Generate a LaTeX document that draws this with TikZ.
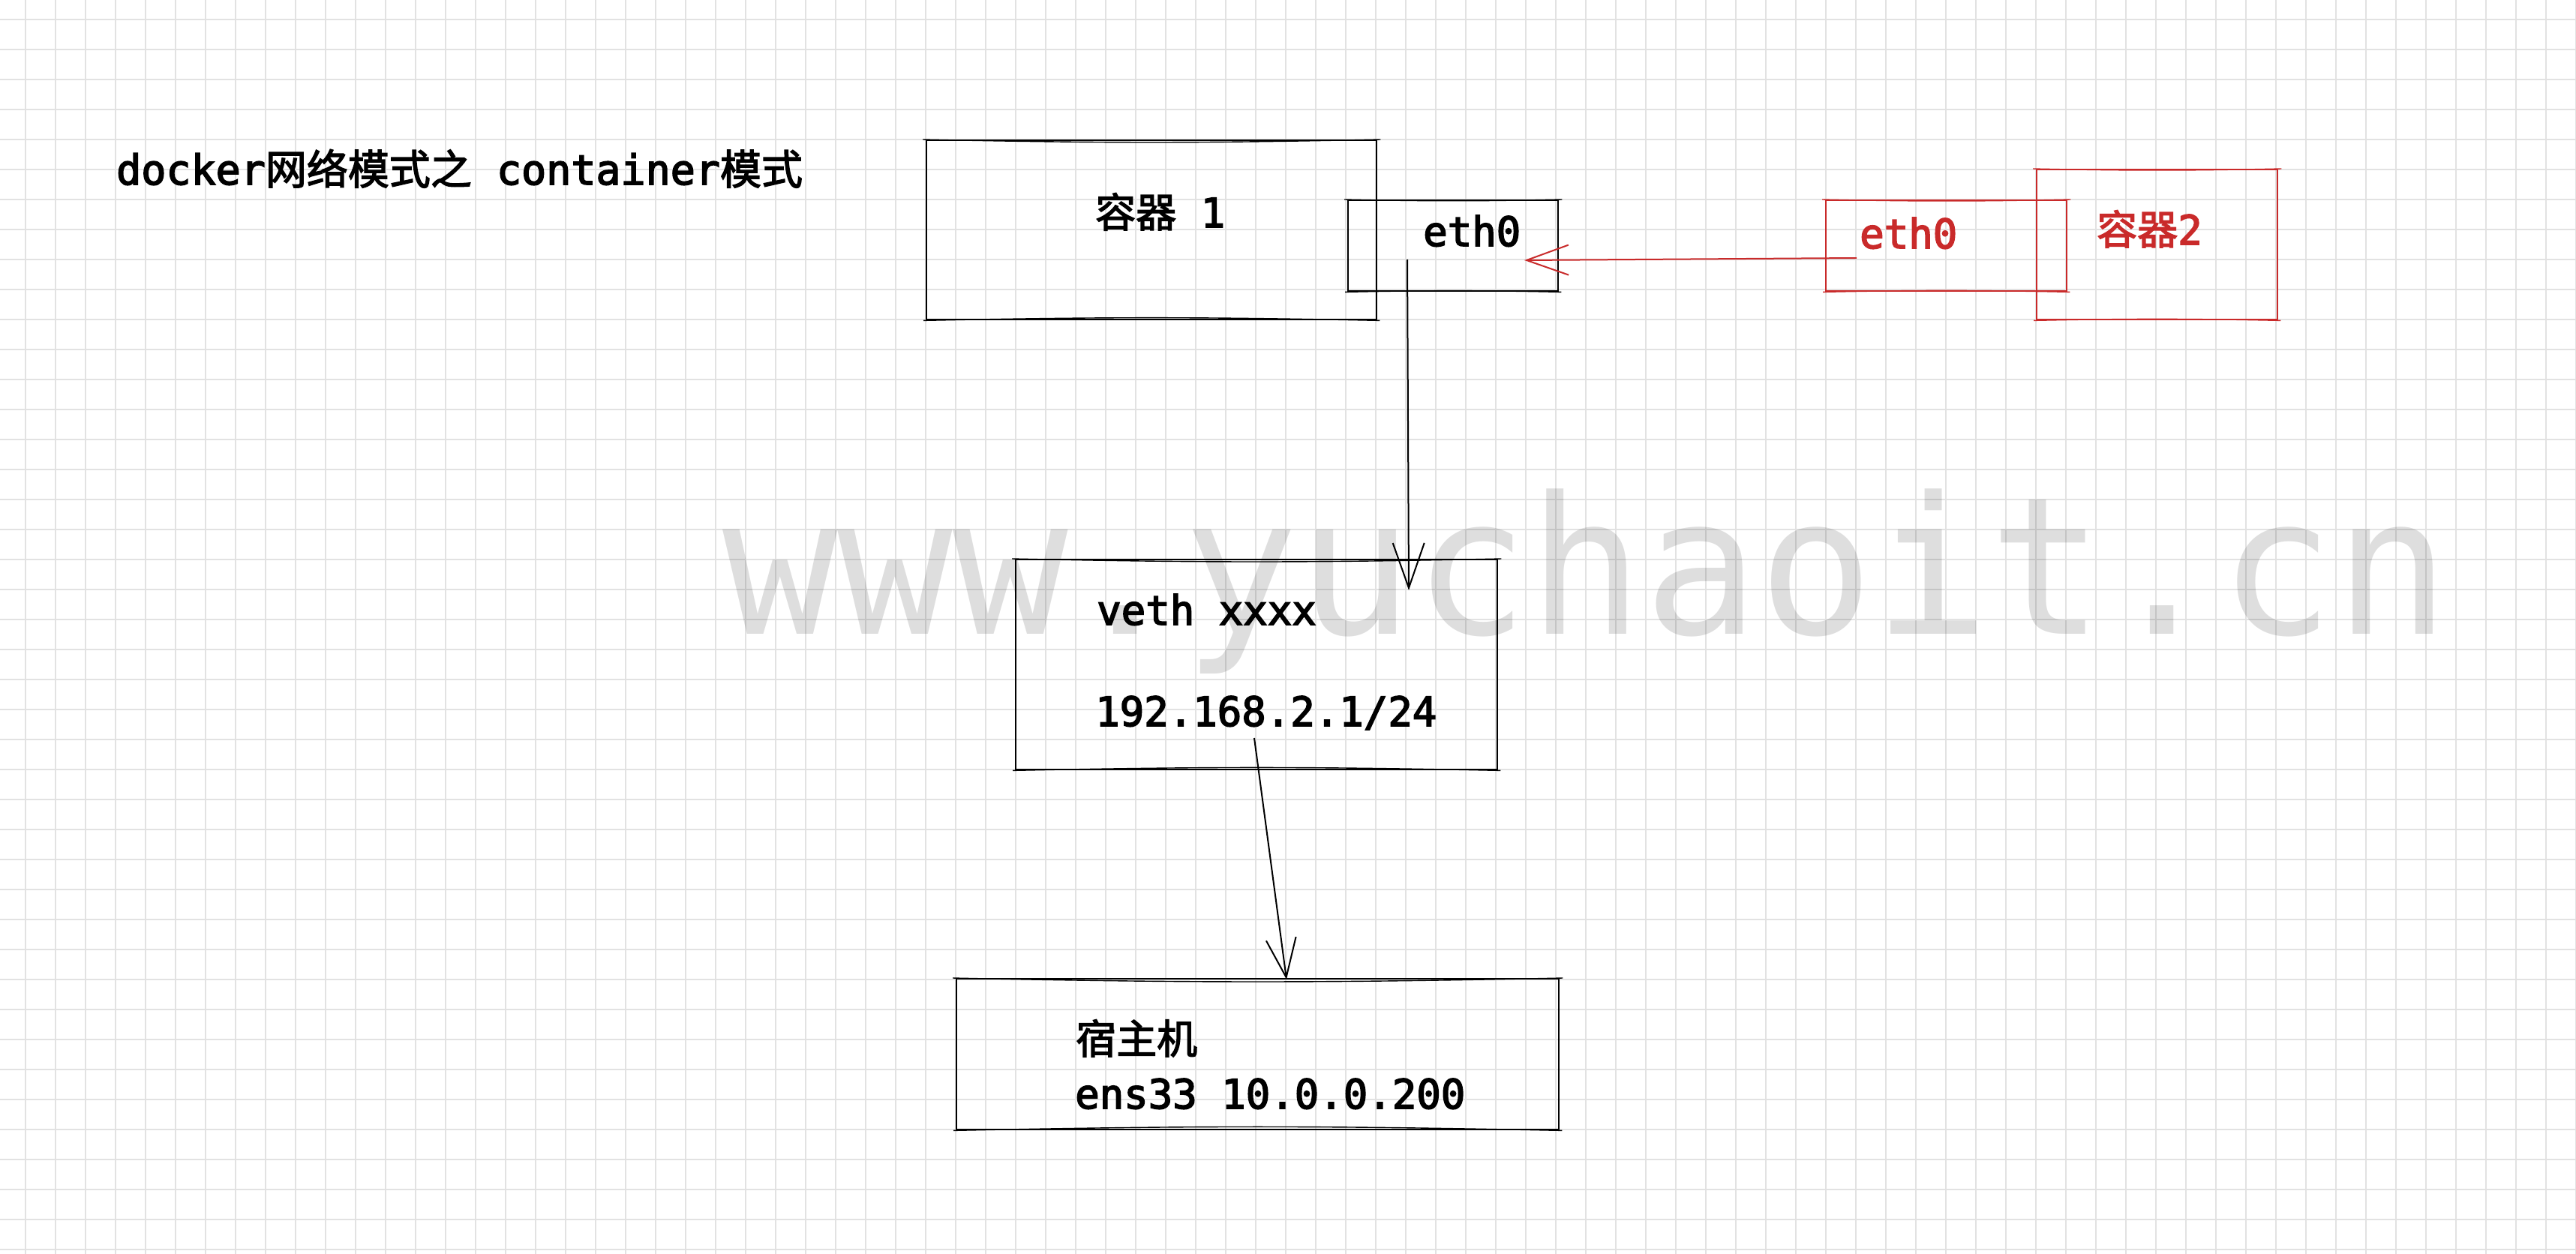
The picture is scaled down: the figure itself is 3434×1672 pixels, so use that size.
\documentclass[tikz,border=0pt]{standalone}
\usepackage{fontspec}
\setmonofont{DejaVu Sans Mono}
\newfontfamily\mono[FakeBold=3]{DejaVu Sans Mono}
\newfontfamily\wmfont{DejaVu Sans Mono}
\newfontfamily\cjk[FakeBold=2.5]{Noto Sans CJK SC}
\usetikzlibrary{arrows.meta}
\definecolor{xred}{HTML}{C92A2A}
\definecolor{gridc}{HTML}{E2E2E2}
\begin{document}
\begin{tikzpicture}[x=1pt,y=-1pt,
  gridline/.style={draw=gridc,line width=2pt},
  sbox/.style={draw,line width=2.4pt,inner sep=0pt,anchor=north west},
  sk/.style={line width=1.4pt},
  txt/.style={font=\mono\fontsize{54}{64}\selectfont,inner sep=0pt,anchor=base west},
  arr/.style={line width=2pt,-{Straight Barb[length=60pt,width=42pt,line width=2pt]}},
]
\useasboundingbox (0,0) rectangle (3434,1672);
\fill[white] (0,0) rectangle (3434,1672);
% grid
\foreach \i in {0,...,85} \draw[gridline] ({34+40*\i},0) -- ({34+40*\i},1672);
\foreach \j in {0,...,41} \draw[gridline] (0,{25.7+40*\j}) -- (3434,{25.7+40*\j});
% watermark
\node[font=\wmfont\fontsize{255}{255}\selectfont,text=black,text opacity=0.13,anchor=base west,inner sep=0pt] (wm) at (963,845) {www.yuchaoit.cn};
% title
\node[txt,font=\mono\fontsize{55}{64}\selectfont] (title) at (155,246) {docker\cjk 网络模式之\mono\ container\cjk 模式};
% boxes
\node[sbox,minimum width=600pt,minimum height=239pt] (c1) at (1234,186) {};
\node[sbox,minimum width=280pt,minimum height=121pt] (eth) at (1796,266) {};
\node[sbox,draw=xred,minimum width=321pt,minimum height=121pt] (reth) at (2433,266) {};
\node[sbox,draw=xred,minimum width=321pt,minimum height=200pt] (c2) at (2714,225) {};
\node[sbox,minimum width=642pt,minimum height=280pt] (veth) at (1353,745) {};
\node[sbox,minimum width=803pt,minimum height=201pt] (host) at (1274,1304) {};
% sketchy second strokes
\foreach \b/\c in {c1/black,eth/black,veth/black,host/black,reth/xred,c2/xred}{
  \draw[sk,draw=\c] ([xshift=-4pt]\b.north west) to[bend right=1.2] ([xshift=4pt]\b.north east);
  \draw[sk,draw=\c] ([xshift=-3pt]\b.south west) to[bend left=1.2] ([xshift=3pt]\b.south east);
}
% texts
\node[txt] (t1) at (1460,303) {\cjk 容器\mono\ 1};
\node[txt] (t2) at (1897,328) {eth0};
\node[txt,text=xred] (t3) at (2479,331) {eth0};
\node[txt,text=xred] (t4) at (2795,326) {\cjk 容器\mono 2};
\node[txt] (t5) at (1462,833) {veth xxxx};
\node[txt] (t6) at (1460,968) {192.168.2.1/24};
\node[txt] (t7) at (1434,1405) {\cjk 宿主机};
\node[txt] (t8) at (1433,1478) {ens33 10.0.0.200};
% connector endpoints
\coordinate (a1s) at (1876,346);
\coordinate (a1e) at (1878,787);
\coordinate (a2s) at (1672,984);
\coordinate (a2e) at (1715,1306);
\coordinate (a3s) at (2475,344);
\coordinate (a3e) at (2032,347);
\draw[arr] (a1s) -- (a1e);
\draw[arr,-{Straight Barb[length=52pt,width=40pt,line width=2pt]}] (a2s) -- (a2e);
\draw[arr,draw=xred,-{Straight Barb[length=56pt,width=40pt,line width=2pt]}] (a3s) -- (a3e);
\end{tikzpicture}
\end{document}
